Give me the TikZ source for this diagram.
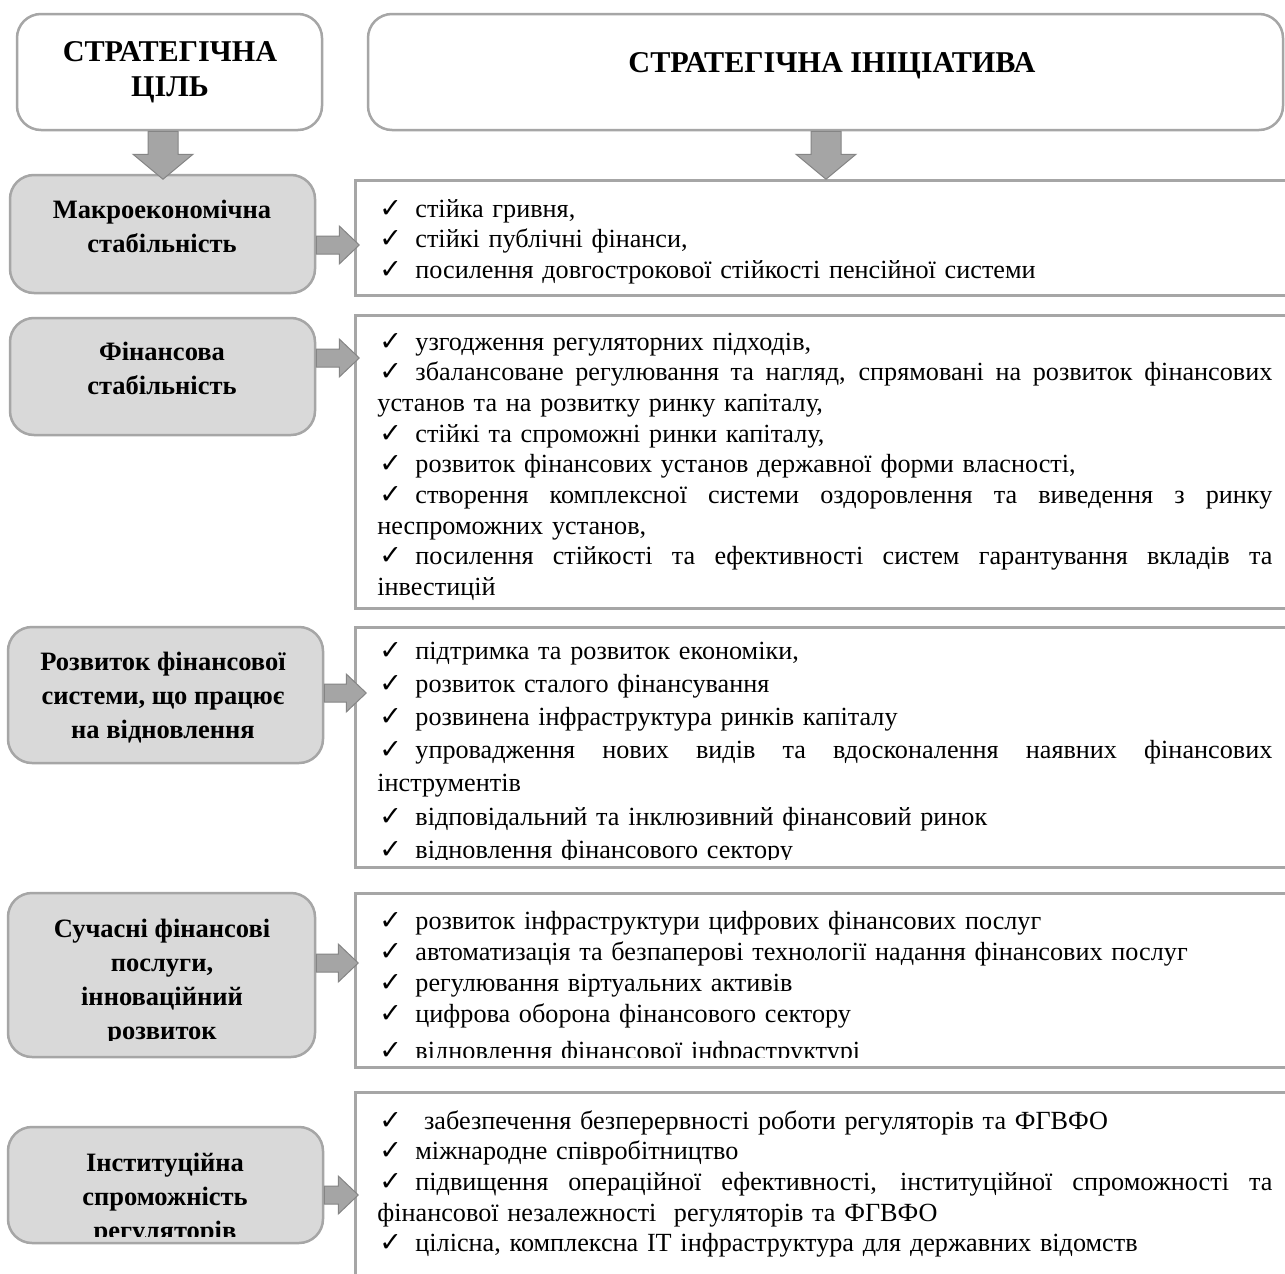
\documentclass[tikz,border=0pt]{standalone}
\usepackage{fontspec}
\setmainfont{Liberation Serif}
\newfontfamily\symfont{DejaVu Sans}
\usetikzlibrary{calc}

\definecolor{boxline}{HTML}{A6A6A6}
\definecolor{goalfill}{HTML}{D9D9D9}
\definecolor{arrowfill}{HTML}{A5A5A5}
\definecolor{arrowline}{HTML}{858585}

% check mark used in front of every list item
\newcommand\ck{{\symfont\fontsize{13.5}{13.5}\selectfont ✓}}
\newcommand\itm{\hspace*{1pt}\makebox[18pt][l]{\ck}}
% a line stretched to the full text width
\newlength\jw
\setlength\jw{447.5pt}
\newcommand\jl[1]{\makebox[\jw][s]{\spaceskip=0pt\xspaceskip=0pt\relax #1}}

% rectangular node given by its corners (x1,y1,x2,y2)
\newcommand\placebox[6]{%
  \node[#1, minimum width={(#5-#3)*0.5pt}, minimum height={(#6-#4)*0.5pt},
        inner sep=0pt] (#2) at ({(#3+#5)/2},{(#4+#6)/2}) {};}
% block arrow pointing right: start coordinate, length
\newcommand\rarrow[2]{%
  \draw[blk] (#1) ++(0,-9) -- ++({#2-20},0) -- ++(0,-10) -- ++(20,19)
    -- ++(-20,19) -- ++(0,-10) -- ++({-(#2-20)},0) -- cycle;}
% block arrow pointing down: start coordinate, length
\newcommand\darrow[2]{%
  \draw[blk] (#1) ++(-15,0) -- ++(0,{#2-25}) -- ++(-15,0) -- ++(30,25)
    -- ++(30,-25) -- ++(-15,0) -- ++(0,{-(#2-25)}) -- cycle;}

\tikzset{
  hdr/.style={draw=boxline, line width=1.25pt, rounded corners=12pt, fill=white},
  goal/.style={draw=boxline, line width=1.25pt, rounded corners=12pt, fill=goalfill},
  init/.style={draw=boxline, line width=1.5pt, fill=white},
  blk/.style={fill=arrowfill, draw=arrowline, line width=0.5pt, line join=miter},
  title/.style={font=\fontsize{15.1}{17.5}\selectfont\bfseries, align=center, inner sep=0pt},
  goaltext/.style={font=\fontsize{13.25}{17}\selectfont\bfseries, align=center, inner sep=0pt},
  list/.style={font=\fontsize{13.1}{15.35}\selectfont, text width=447.5pt,
               align=left, inner sep=0pt, anchor=base west},
}

\begin{document}
\begin{tikzpicture}[x=0.5pt, y=-0.5pt]
\useasboundingbox[fill=white] (0,0) rectangle (1285,1274);

% header boxes
\placebox{hdr}{hl}{17}{14}{322}{130}
\placebox{hdr}{hr}{368}{14}{1283}{130}
\node[title] (hlt) at (170,72) {СТРАТЕГІЧНА\\ЦІЛЬ};
\node[title, anchor=base] (hrt) at (832,72) {СТРАТЕГІЧНА ІНІЦІАТИВА};

% strategic goals
\placebox{goal}{g1}{10}{175}{315}{293}
\placebox{goal}{g2}{10}{318}{315}{435}
\placebox{goal}{g3}{8}{627}{323}{763}
\placebox{goal}{g4}{8}{893}{315}{1057}
\placebox{goal}{g5}{8}{1127}{323}{1243}

% strategic initiatives
\placebox{init}{r1}{355}{180}{1295}{295}
\placebox{init}{r2}{355}{315}{1295}{608}
\placebox{init}{r3}{355}{627}{1295}{867}
\placebox{init}{r4}{355}{893}{1295}{1067}
\placebox{init}{r5}{355}{1092}{1295}{1300}

% down arrows under the headers
\coordinate (dl) at (163,0);
\coordinate (dr) at (826,0);
\darrow{hl.south -| dl}{48}
\darrow{hr.south -| dr}{48}

% arrows from goals to initiatives
\coordinate (y1) at (0,245);
\coordinate (y2) at (0,358);
\coordinate (y3) at (0,693);
\coordinate (y4) at (0,963);
\coordinate (y5) at (0,1195);
\rarrow{g1.east |- y1}{43}
\rarrow{g2.east |- y2}{43}
\rarrow{g3.east |- y3}{42}
\rarrow{g4.east |- y4}{42}
\rarrow{g5.east |- y5}{34}

% goal captions
\node[goaltext] (g1t) at (162,226) {Макроекономічна\\стабільність};
\node[goaltext] (g2t) at (162,368) {Фінансова\\стабільність};
\node[goaltext] (g3t) at (163,698) {Розвиток фінансової\\системи, що працює\\на відновлення};
\begin{scope}
  \clip (0,880) rectangle (330,1040);
  \node[goaltext] (g4t) at (162,982) {Сучасні фінансові\\послуги,\\інноваційний\\розвиток};
\end{scope}
\begin{scope}
  \clip (0,1130) rectangle (330,1236);
  \node[goaltext] (g5t) at (165,1199) {Інституційна\\спроможність\\регуляторів};
\end{scope}

% initiative lists
\node[list] (r1t) at (377,217) {%
\itm стійка гривня,\\
\itm стійкі публічні фінанси,\\
\itm посилення довгострокової стійкості пенсійної системи};

\node[list] (r2t) at (377,350) {%
\itm узгодження регуляторних підходів,\\
\jl{\itm збалансоване регулювання та нагляд, спрямовані на розвиток фінансових}\\
установ та на розвитку ринку капіталу,\\
\itm стійкі та спроможні ринки капіталу,\\
\itm розвиток фінансових установ державної форми власності,\\
\jl{\itm створення комплексної системи оздоровлення та виведення з ринку}\\
неспроможних установ,\\
\jl{\itm посилення стійкості та ефективності систем гарантування вкладів та}\\
інвестицій};

\begin{scope}
  \clip (360,630) rectangle (1290,859);
  \node[list, font=\fontsize{13.1}{16.6}\selectfont] (r3t) at (377,659) {%
  \itm підтримка та розвиток економіки,\\
  \itm розвиток сталого фінансування\\
  \itm розвинена інфраструктура ринків капіталу\\
  \jl{\itm упровадження нових видів та вдосконалення наявних фінансових}\\
  інструментів\\
  \itm відповідальний та інклюзивний фінансовий ринок\\
  \itm відновлення фінансового сектору};
\end{scope}

\begin{scope}
  \clip (360,896) rectangle (1290,1057);
  \node[list, font=\fontsize{13.1}{15.5}\selectfont] (r4t) at (377,929) {%
  \itm розвиток інфраструктури цифрових фінансових послуг\\
  \itm автоматизація та безпаперові технології надання фінансових послуг\\
  \itm регулювання віртуальних активів\\
  \itm цифрова оборона фінансового сектору\\[3pt]
  \itm відновлення фінансової інфраструктурі};
\end{scope}

\node[list] (r5t) at (377,1129) {%
\itm \ забезпечення безперервності роботи регуляторів та ФГВФО\\
\itm міжнародне співробітництво\\
\jl{\itm підвищення операційної ефективності, інституційної спроможності та}\\
фінансової незалежності~ регуляторів та ФГВФО\\
\itm цілісна, комплексна IT інфраструктура для державних відомств};
\end{tikzpicture}
\end{document}
